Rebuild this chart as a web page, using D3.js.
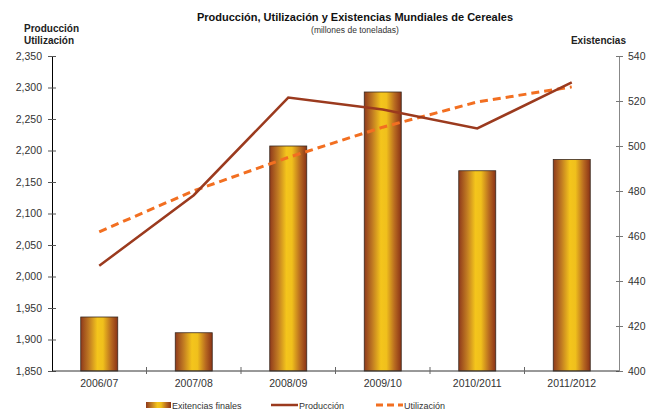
<!DOCTYPE html>
<html><head><meta charset="utf-8">
<script src="https://cdn.jsdelivr.net/npm/d3@7"></script>
<style>body{margin:0;background:#fff}svg{display:block;font-family:"Liberation Sans",Arial,sans-serif}</style>
</head><body><svg id="c" width="654" height="411"></svg>
<script>
const categories = ["2006/07","2007/08","2008/09","2009/10","2010/2011","2011/2012"];
const existencias = [424, 417, 500, 524, 489, 494];
const produccion = [2017, 2129, 2284, 2265, 2235, 2308];
const utilizacion = [2071, 2136, 2189, 2237, 2277, 2301];
const leftTicks = [1850,1900,1950,2000,2050,2100,2150,2200,2250,2300,2350];
const rightTicks = [400,420,440,460,480,500,520,540];

const svg = d3.select("#c");
const L = 52, R = 619, T = 56, B = 371;
const x = d3.scaleBand().domain(categories).range([L, R]);
const yL = d3.scaleLinear().domain([1850, 2350]).range([B, T]);
const yR = d3.scaleLinear().domain([400, 540]).range([B, T]);

const defs = svg.append("defs");
const g = defs.append("linearGradient").attr("id","bg").attr("x1","0").attr("x2","1").attr("y1","0").attr("y2","0");
[[0,"#8f3a1c"],[0.22,"#c07a22"],[0.45,"#f4c51c"],[0.6,"#f0c01c"],[0.82,"#b86a20"],[1,"#8a3216"]].forEach(s=>g.append("stop").attr("offset",s[0]).attr("stop-color",s[1]));

// bars
const bw = 37;
svg.append("g").selectAll("rect").data(existencias).join("rect")
  .attr("x",(d,i)=>x(categories[i])+x.bandwidth()/2-bw/2)
  .attr("y",d=>yR(d)).attr("width",bw).attr("height",d=>B-yR(d))
  .attr("fill","url(#bg)").attr("stroke","#3a2a20").attr("stroke-width",0.8);

const cx = c => x(c)+x.bandwidth()/2;
const line = d3.line().x((d,i)=>cx(categories[i])).y(d=>yL(d));
svg.append("path").datum(utilizacion).attr("d",line).attr("fill","none")
  .attr("stroke","#f26f21").attr("stroke-width",3).attr("stroke-dasharray","8,5");
svg.append("path").datum(produccion).attr("d",line).attr("fill","none")
  .attr("stroke","#9b3a1e").attr("stroke-width",2.5);

// axes
const fmt = d3.format(",");
const la = svg.append("g").attr("transform",`translate(${L},0)`)
  .call(d3.axisLeft(yL).tickValues(leftTicks).tickFormat(fmt).tickSizeInner(4).tickSizeOuter(0).tickPadding(6));
la.select(".domain").attr("stroke","#000");
la.selectAll(".tick line").attr("x1",4).attr("x2",-4).attr("stroke","#555");
la.selectAll("text").attr("font-size",10.5).attr("fill","#333");

const ra = svg.append("g").attr("transform",`translate(${R},0)`)
  .call(d3.axisRight(yR).tickValues(rightTicks).tickSizeInner(4).tickSizeOuter(0).tickPadding(5));
ra.select(".domain").attr("stroke","#888");
ra.selectAll(".tick line").attr("x1",-3).attr("x2",4).attr("stroke","#777");
ra.selectAll("text").attr("font-size",10.5).attr("fill","#333");

const ba = svg.append("g").attr("transform",`translate(0,${B})`);
ba.append("line").attr("x1",L).attr("x2",R).attr("stroke","#333");
ba.selectAll("line.t").data(categories.slice(1)).join("line").attr("class","t")
  .attr("x1",d=>x(d)).attr("x2",d=>x(d)).attr("y1",-4).attr("y2",3).attr("stroke","#666");
ba.selectAll("text").data(categories).join("text")
  .attr("x",d=>cx(d)).attr("y",16).attr("text-anchor","middle")
  .attr("font-size",10.5).attr("fill","#333").text(d=>d);

// titles
svg.append("text").attr("x",355).attr("y",21).attr("text-anchor","middle")
  .attr("font-weight","bold").attr("font-size",11).attr("fill","#111")
  .text("Producción, Utilización y Existencias Mundiales de Cereales");
svg.append("text").attr("x",355).attr("y",33).attr("text-anchor","middle")
  .attr("font-size",8.5).attr("fill","#333").text("(millones de toneladas)");
svg.append("text").attr("x",24).attr("y",32).attr("font-weight","bold").attr("font-size",10).attr("fill","#222").text("Producción");
svg.append("text").attr("x",24).attr("y",44).attr("font-weight","bold").attr("font-size",10).attr("fill","#222").text("Utilización");
svg.append("text").attr("x",626).attr("y",44).attr("text-anchor","end").attr("font-weight","bold").attr("font-size",10).attr("fill","#222").text("Existencias");

// legend
const lg = svg.append("g").attr("font-size",9).attr("fill","#333");
lg.append("rect").attr("x",146).attr("y",402).attr("width",25).attr("height",6).attr("fill","url(#bg)");
lg.append("text").attr("x",172).attr("y",409).text("Exitencias finales");
lg.append("line").attr("x1",271).attr("x2",298).attr("y1",405).attr("y2",405).attr("stroke","#9b3a1e").attr("stroke-width",2.5);
lg.append("text").attr("x",299).attr("y",409).text("Producción");
lg.append("line").attr("x1",376).attr("x2",403).attr("y1",405).attr("y2",405).attr("stroke","#f26f21").attr("stroke-width",3).attr("stroke-dasharray","7,4");
lg.append("text").attr("x",404).attr("y",409).text("Utilización");
</script></body></html>
